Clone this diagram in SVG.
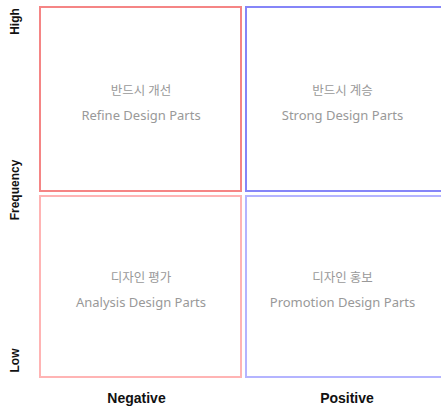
<svg xmlns="http://www.w3.org/2000/svg" width="441" height="409" viewBox="0 0 441 409">
  <style>
    .cell { fill: #ffffff; stroke-width: 2; }
    .neg-high { stroke: #f58585; }
    .neg-low { stroke: #ffb4b4; }
    .pos-high { stroke: #8585f8; }
    .pos-low { stroke: #b4b4ff; }
    .ko { font-family: "Noto Sans CJK KR", "Noto Sans", sans-serif; font-size: 12.5px; fill: #999999; text-anchor: middle; }
    .en { font-family: "Noto Sans", "Noto Sans CJK KR", sans-serif; font-size: 13px; fill: #999999; text-anchor: middle; }
    .axis { font-family: "Liberation Sans", Arial, sans-serif; font-weight: bold; fill: #111111; text-anchor: middle; }
  </style>

  <!-- quadrant cells -->
  <g id="refine">
    <rect class="cell neg-high" x="40" y="7" width="201" height="184"/>
    <text class="ko" x="141" y="95">반드시 개선</text>
    <text class="en" x="141" y="120">Refine Design Parts</text>
  </g>
  <g id="strong">
    <rect class="cell pos-high" x="246" y="7" width="196" height="184"/>
    <text class="ko" x="342.5" y="95">반드시 계승</text>
    <text class="en" x="342.5" y="120">Strong Design Parts</text>
  </g>
  <g id="analysis">
    <rect class="cell neg-low" x="40" y="196" width="201" height="181"/>
    <text class="ko" x="141" y="282">디자인 평가</text>
    <text class="en" x="141" y="307">Analysis Design Parts</text>
  </g>
  <g id="promotion">
    <rect class="cell pos-low" x="246" y="196" width="196" height="181"/>
    <text class="ko" x="342.5" y="282">디자인 홍보</text>
    <text class="en" x="342.5" y="307">Promotion Design Parts</text>
  </g>

  <!-- axis labels -->
  <g id="axes">
    <text class="axis" font-size="12" transform="translate(19,21.5) rotate(-90)">High</text>
    <text class="axis" font-size="12" transform="translate(19,190) rotate(-90)">Frequency</text>
    <text class="axis" font-size="12" transform="translate(19,360.5) rotate(-90)">Low</text>
    <text class="axis" font-size="14" x="136.5" y="403">Negative</text>
    <text class="axis" font-size="14" x="347" y="403">Positive</text>
  </g>

  <g id="connectors"></g>
</svg>
